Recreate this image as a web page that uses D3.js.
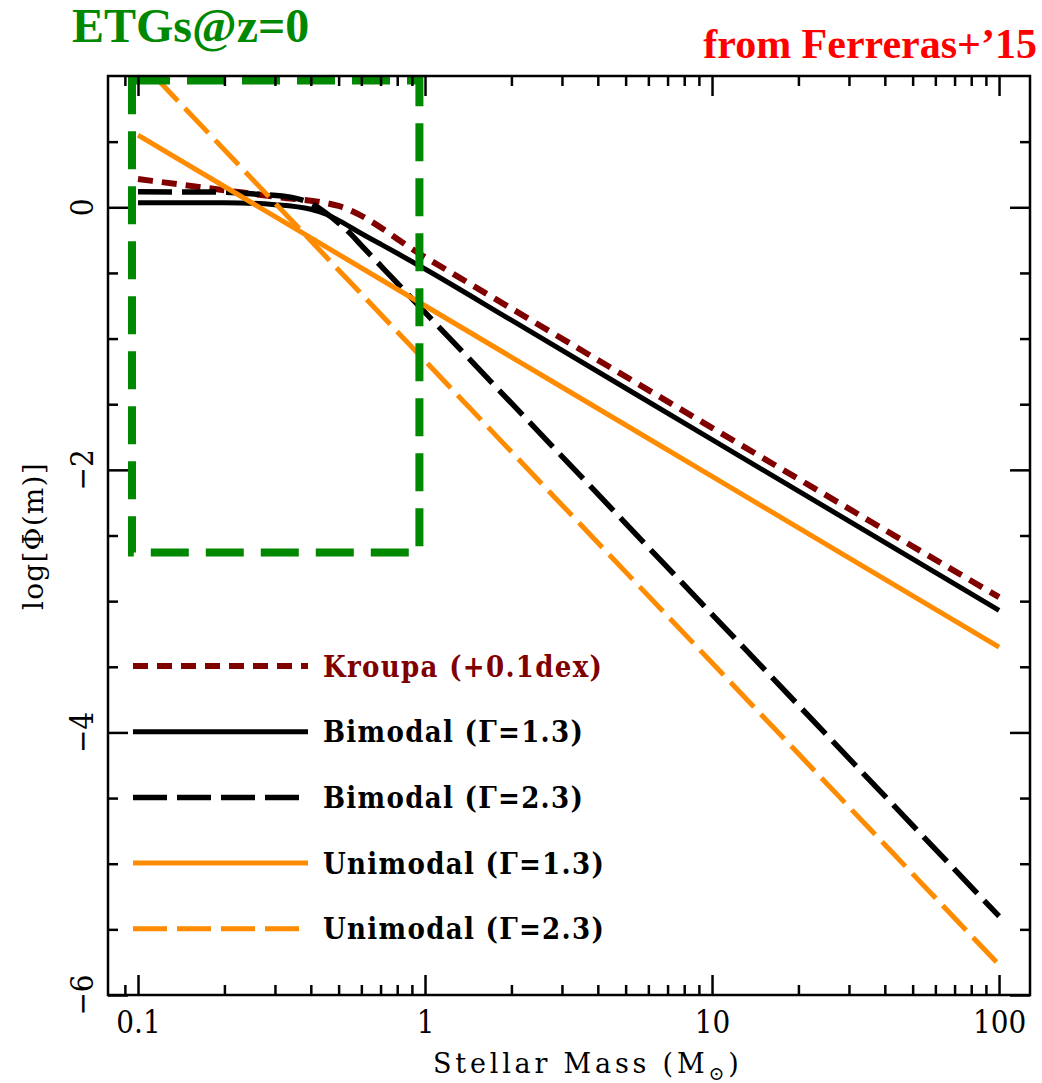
<!DOCTYPE html>
<html>
<head>
<meta charset="utf-8">
<script src="https://cdn.jsdelivr.net/npm/d3@7"></script>
<style>
  body { margin: 0; background: #fff; }
  svg { display: block; }
  .tick line { stroke: #000; stroke-width: 2.5; }
  .domain { display: none; }
</style>
</head>
<body>
<div id="chart"></div>
<script>
// values: log Phi(m) at given stellar masses
const kroupaMass = [0.1, 0.2, 0.3, 0.5, 1, 10, 100]
const kroupaPhi = [0.215, 0.13, 0.08, 0.01, -0.38, -1.68, -2.97]

const bi13Mass = [0.1, 0.2, 0.3, 0.4, 0.45, 0.5, 0.6, 0.7, 0.8, 1, 2, 10, 100]
const bi13Phi = [0.035, 0.035, 0.02, -0.015, -0.05, -0.1, -0.2, -0.28, -0.35, -0.47, -0.86, -1.77, -3.07]

const bi23Mass = [0.1, 0.2, 0.26, 0.343, 0.4, 0.449, 0.5, 0.555, 0.6, 0.67, 0.766, 1, 10, 100]
const bi23Phi = [0.118, 0.115, 0.1, 0.075, 0.03, -0.04, -0.12, -0.21, -0.29, -0.40, -0.534, -0.80, -3.10, -5.40]

const uni13Mass = [0.1, 1, 10, 100]
const uni13Phi = [0.55, -0.75, -2.05, -3.35]

const uni23Mass = [0.1, 1, 10, 100]
const uni23Phi = [1.13, -1.17, -3.47, -5.77]

const legendLabels = ["Kroupa (+0.1dex)", "Bimodal (\u0393=1.3)", "Bimodal (\u0393=2.3)", "Unimodal (\u0393=1.3)", "Unimodal (\u0393=2.3)"]

const xMajor = [0.1, 1, 10, 100]
const xMinor = [0.09, 0.2, 0.3, 0.4, 0.5, 0.6, 0.7, 0.8, 0.9, 2, 3, 4, 5, 6, 7, 8, 9, 20, 30, 40, 50, 60, 70, 80, 90]
const yMajor = [-6, -4, -2, 0]
const yMinor = [-5.5, -5, -4.5, -3.5, -3, -2.5, -1.5, -1, -0.5, 0.5]
const yLabels = ["\u22126", "\u22124", "\u22122", "0"]

// ETGs box (mass range, log Phi range)
const boxMass = [0.0953, 0.956]
const boxPhi = [-2.63, 0.965]

const width = 1042, height = 1083
const plotLeft = 108, plotRight = 1030, plotTop = 76, plotBottom = 995

const axisFont = "'DejaVu Serif Condensed', 'DejaVu Serif', serif"
const titleFont = "'DejaVu Serif', serif"

var svg = d3.select("#chart").append("svg")
    .attr("width", width)
    .attr("height", height)

svg.append("rect").attr("width", width).attr("height", height).attr("fill", "#fff")

var x = d3.scaleLog().domain([0.0786, 128.2]).range([plotLeft, plotRight])
var y = d3.scaleLinear().domain([-6, 1]).range([plotBottom, plotTop])

svg.append("clipPath").attr("id", "plotclip")
  .append("rect")
    .attr("x", plotLeft).attr("y", plotTop)
    .attr("width", plotRight - plotLeft).attr("height", plotBottom - plotTop)

// Curves
const series = [
  { mass: kroupaMass, phi: kroupaPhi, color: "#800000", width: 6, dash: "15,9", offset: 0 },
  { mass: bi13Mass, phi: bi13Phi, color: "#000", width: 5, dash: null, offset: 0 },
  { mass: bi23Mass, phi: bi23Phi, color: "#000", width: 5.5, dash: "34,10", offset: 0 },
  { mass: uni13Mass, phi: uni13Phi, color: "#ff8c00", width: 5, dash: null, offset: 0 },
  { mass: uni23Mass, phi: uni23Phi, color: "#ff8c00", width: 5, dash: "34,10", offset: 20 }
]

var line = d3.line()
    .x(d => x(d[0]))
    .y(d => y(d[1]))
    .curve(d3.curveMonotoneX)

var curves = svg.append("g").attr("clip-path", "url(#plotclip)")
series.forEach(s => {
  curves.append("path")
      .datum(s.mass.map((m, i) => [m, s.phi[i]]))
      .attr("d", line)
      .attr("fill", "none")
      .attr("stroke", s.color)
      .attr("stroke-width", s.width)
      .attr("stroke-dasharray", s.dash)
      .attr("stroke-dashoffset", s.offset)
})

// Legend
var legend = svg.append("g")
series.forEach((s, i) => {
  let ly = 666 + i * 65.7
  legend.append("line")
      .attr("x1", 133).attr("x2", 308)
      .attr("y1", ly).attr("y2", ly)
      .attr("stroke", s.color)
      .attr("stroke-width", s.width)
      .attr("stroke-dasharray", s.dash)
  legend.append("text")
      .attr("x", 323).attr("y", ly + 10.5)
      .attr("font-family", axisFont)
      .attr("font-weight", "bold")
      .attr("font-size", 29)
      .attr("letter-spacing", 1.3)
      .attr("fill", i === 0 ? "#800000" : "#000")
      .text(legendLabels[i])
})

// Green box
svg.append("rect")
    .attr("x", x(boxMass[0]))
    .attr("y", y(boxPhi[1]))
    .attr("width", x(boxMass[1]) - x(boxMass[0]))
    .attr("height", y(boxPhi[0]) - y(boxPhi[1]))
    .attr("fill", "none")
    .attr("stroke", "#008800")
    .attr("stroke-width", 8)
    .attr("stroke-dasharray", "38,17")

// Frame
svg.append("rect")
    .attr("x", plotLeft).attr("y", plotTop)
    .attr("width", plotRight - plotLeft).attr("height", plotBottom - plotTop)
    .attr("fill", "none")
    .attr("stroke", "#000")
    .attr("stroke-width", 2.5)

// Ticks
function ticks(axis, vals, size, transform) {
  svg.append("g")
      .attr("transform", transform)
      .call(axis.tickValues(vals).tickSize(size).tickFormat(""))
}
ticks(d3.axisBottom(x), xMinor, -10, `translate(0,${plotBottom})`)
ticks(d3.axisTop(x), xMinor, -10, `translate(0,${plotTop})`)
ticks(d3.axisTop(x), xMajor, -20, `translate(0,${plotTop})`)
ticks(d3.axisLeft(y), yMinor, -10, `translate(${plotLeft},0)`)
ticks(d3.axisLeft(y), yMajor, -20, `translate(${plotLeft},0)`)
ticks(d3.axisRight(y), yMinor, -10, `translate(${plotRight},0)`)
ticks(d3.axisRight(y), yMajor, -20, `translate(${plotRight},0)`)

var xAxis = svg.append("g")
    .attr("transform", `translate(0,${plotBottom})`)
    .call(d3.axisBottom(x).tickValues(xMajor).tickSize(-20).tickPadding(16)
      .tickFormat(d => d < 1 ? "0.1" : d3.format("d")(d)))
xAxis.selectAll("text")
    .attr("font-family", axisFont)
    .attr("font-size", 31)
    .attr("fill", "#000")

// y tick labels, rotated
yMajor.forEach((v, i) => {
  svg.append("text")
      .attr("transform", `translate(93,${y(v)}) rotate(-90)`)
      .attr("text-anchor", "middle")
      .attr("font-family", axisFont)
      .attr("font-size", 31)
      .text(yLabels[i])
})

// Axis titles
var xt = svg.append("text")
    .attr("x", 433).attr("y", 1073)
    .attr("font-family", titleFont)
    .attr("font-size", 27)
    .attr("letter-spacing", 3.8)
xt.append("tspan").text("Stellar Mass (M")
xt.append("tspan").attr("font-size", 19).attr("dy", 7).text("\u2299")
xt.append("tspan").attr("dy", -7).text(")")

svg.append("text")
    .attr("transform", "translate(43,536) rotate(-90)")
    .attr("text-anchor", "middle")
    .attr("font-family", titleFont)
    .attr("font-size", 28)
    .attr("letter-spacing", 1.2)
    .text("log[\u03a6(m)]")

// Annotations
svg.append("text")
    .attr("x", 72).attr("y", 42)
    .attr("font-family", "'Liberation Serif', serif")
    .attr("font-weight", "bold")
    .attr("font-size", 48)
    .attr("fill", "#008800")
    .text("ETGs@z=0")

svg.append("text")
    .attr("x", 1037).attr("y", 58)
    .attr("text-anchor", "end")
    .attr("font-family", "'Liberation Serif', serif")
    .attr("font-weight", "bold")
    .attr("font-size", 42)
    .attr("fill", "#ff0000")
    .text("from Ferreras+\u201915")
</script>
</body>
</html>
